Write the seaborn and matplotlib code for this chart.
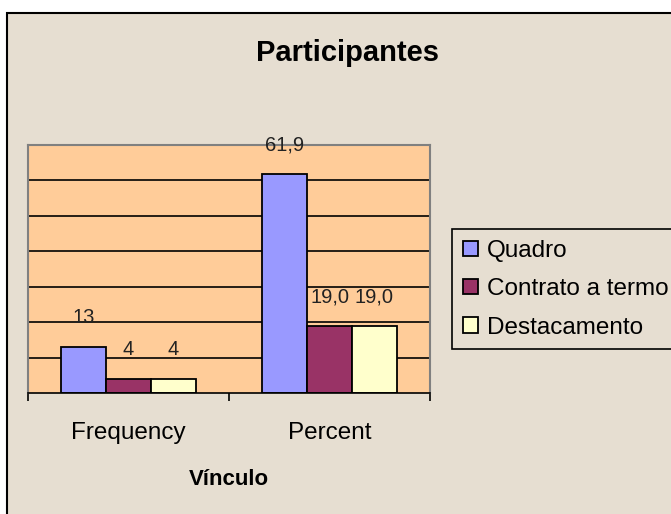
import pandas as pd
import matplotlib.pyplot as plt
import seaborn as sns
from matplotlib.patches import Rectangle

# data
categories = ["Frequency", "Percent"]
series = ["Quadro", "Contrato a termo", "Destacamento"]
frequency = [13, 4, 4]
percent = [61.9, 19.0, 19.0]

colors = ["#9999FF", "#993366", "#FFFFCC"]
bg = "#E6DED1"

rows = []
for s, f, p in zip(series, frequency, percent):
    rows.append({"Cat": "Frequency", "Vinculo": s, "Value": f})
    rows.append({"Cat": "Percent", "Vinculo": s, "Value": p})
df = pd.DataFrame(rows)

plt.rcParams['font.family'] = ['Liberation Sans', 'DejaVu Sans']

W, H = 671, 514
fig = plt.figure(figsize=(W / 100, H / 100), dpi=100, facecolor="white")

# outer chart area (textured beige in the original)
fig.add_artist(Rectangle((7 / W, -0.1), 1.0, (1 - 13 / H) + 0.1, transform=fig.transFigure,
                         facecolor=bg, edgecolor="black", lw=1.5, zorder=-1))

ax = fig.add_axes([28 / W, 1 - 393 / H, (430 - 28) / W, (393 - 145) / H])
ax.set_facecolor("#FFCC99")

sns.barplot(data=df, x="Cat", y="Value", hue="Vinculo", order=categories, hue_order=series,
            palette=colors, width=0.67, gap=0, errorbar=None, edgecolor="black",
            linewidth=1.3, saturation=1, ax=ax)

ax.set_ylim(0, 70)
ax.set_xlim(-0.5, 1.5)
ax.set_yticks(range(10, 70, 10))
ax.set_yticklabels([])
ax.tick_params(axis="y", length=0)
ax.yaxis.grid(True, color="black", lw=1.2)
ax.set_axisbelow(True)

ax.set_xticks([0, 1])
ax.set_xticklabels(categories, fontsize=17.5)
ax.set_xticks([-0.5, 0.5, 1.5], minor=True)
ax.tick_params(axis="x", which="major", length=0, pad=21)
ax.tick_params(axis="x", which="minor", length=6, width=1.2, color="black", direction="out")
ax.set_xlabel("Vínculo", fontsize=16, fontweight="bold", labelpad=18)
ax.set_ylabel("")

for side in ["left", "top", "right"]:
    ax.spines[side].set_color("#808080")
    ax.spines[side].set_linewidth(1.5)
ax.spines["bottom"].set_color("black")
ax.spines["bottom"].set_linewidth(1.2)

# value labels: counts as integers, percentages with a decimal comma
for i, cont in enumerate(ax.containers):
    labs = [str(frequency[i]), f"{percent[i]:.1f}".replace(".", ",")]
    for bar, lab in zip(cont, labs):
        ax.annotate(lab, (bar.get_x() + bar.get_width() / 2, bar.get_height()),
                    xytext=(0, 21), textcoords="offset points", ha="center", va="center",
                    fontsize=14.5, color="#222222")

handles, labels = ax.get_legend_handles_labels()
if ax.legend_:
    ax.legend_.remove()
leg = ax.legend(handles, labels, loc="upper left", bbox_to_anchor=(452 / W, 1 - 229 / H),
                bbox_transform=fig.transFigure, borderaxespad=0, fontsize=17.5,
                handlelength=0.6, handleheight=0.6, handletextpad=0.4,
                labelspacing=0.67, borderpad=0.45, fancybox=False, framealpha=1,
                facecolor=bg, edgecolor="black")
leg.get_frame().set_linewidth(1.2)

fig.text(348 / W, 1 - 53 / H, "Participantes", ha="center", va="center",
         fontsize=21, fontweight="bold")

fig.savefig("out.png", dpi=100)
